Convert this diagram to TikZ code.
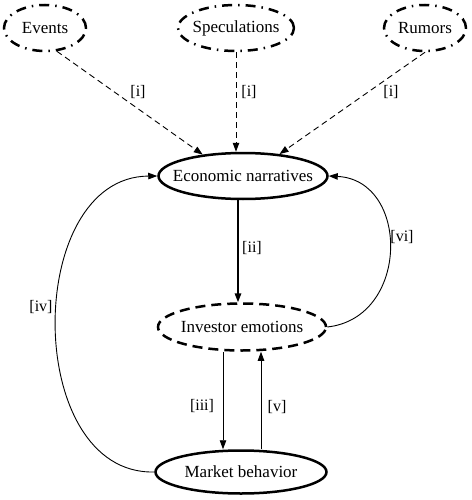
\documentclass[tikz,border=0pt]{standalone}
\usepackage{fontspec}
\setmainfont{Liberation Serif}
\usetikzlibrary{shapes.geometric,arrows.meta}
\newcommand{\ctr}[1]{\makebox[0pt]{#1}}
\begin{document}
\begin{tikzpicture}[x=1pt,y=-1pt,
  ell/.style={ellipse, draw, line width=2.5pt, inner sep=0pt, font=\fontsize{17}{20}\selectfont},
  srcell/.style={ell, dash pattern=on 10pt off 6pt on 1.5pt off 6pt, minimum height=46pt},
  lbl/.style={font=\fontsize{16}{19}\selectfont, inner sep=0pt},
  arr/.style={-{Triangle[length=9pt,width=6.5pt]}, line width=0.9pt},
  darr/.style={arr, dash pattern=on 6pt off 4pt}
]
\useasboundingbox (0,0) rectangle (471,500);

\node[srcell, minimum width=82pt] (ev) at (45,28) {\ctr{Events}};
\node[srcell, minimum width=116pt] (sp) at (236,28) {\ctr{Speculations}};
\node[srcell, minimum width=82pt] (ru) at (425,28) {\ctr{Rumors}};

\node[ell, minimum width=169pt, minimum height=46pt] (en) at (243,176) {\ctr{Economic narratives}};
\node[ell, dash pattern=on 10pt off 6pt, minimum width=168pt, minimum height=47pt] (ie) at (242,327) {\ctr{Investor emotions}};
\node[ell, minimum width=171pt, minimum height=43pt] (mb) at (241,472) {\ctr{Market behavior}};

% [i] arrows
\draw[darr] (ev.-63) -- (en.152);
\draw[darr] (sp.south) -- (sp.south |- en.north);
\draw[darr] (ru.south) -- (en.31);
\node[lbl] (li1) at (138,92) {[i]};
\node[lbl] (li2) at (249,92) {[i]};
\node[lbl] (li3) at (391,92) {[i]};

% [ii]
\coordinate (ii1) at (238,200);
\draw[arr, line width=1.6pt] (en.south -| ii1) -- (ie.north -| ii1);
\node[lbl] (lii) at (252,248) {[ii]};

% [iii] and [v]
\coordinate (c3) at (223,0);
\coordinate (c5) at (261,0);
\draw[arr] (ie.south -| c3) -- (mb.north -| c3);
\draw[arr] (mb.north -| c5) -- (ie.south -| c5);
\node[lbl] (liii) at (202,406) {[iii]};
\node[lbl] (lv) at (277,407) {[v]};

% [iv]
\draw[arr] (mb.west) .. controls (23,475) and (23,177) .. (en.west);
\node[lbl] (liv) at (41,307) {[iv]};

% [vi]
\draw[arr] (ie.east) .. controls (410,318) and (410,180) .. (en.east);
\node[lbl] (lvi) at (402,237) {[vi]};
\end{tikzpicture}
\end{document}
